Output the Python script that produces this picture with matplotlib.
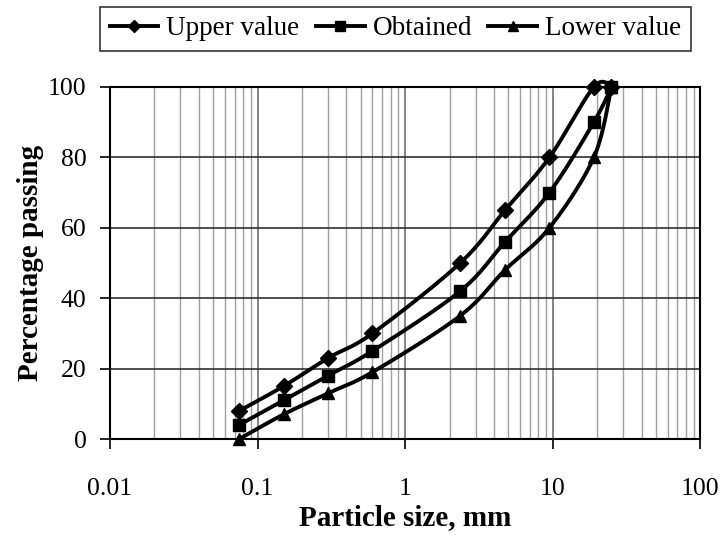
import numpy as np
import matplotlib.pyplot as plt
from matplotlib.ticker import LogLocator, NullFormatter

# Datos
tamano = [0.075, 0.15, 0.3, 0.6, 2.36, 4.75, 9.5, 19, 25]
superior = [8, 15, 23, 30, 50, 65, 80, 100, 100]
obtenido = [4, 11, 18, 25, 42, 56, 70, 90, 100]
inferior = [0, 7, 13, 19, 35, 48, 60, 80, 100]

plt.rcParams['font.family'] = ['Liberation Serif', 'DejaVu Serif']

fig = plt.figure(figsize=(7.19, 5.4), dpi=100)
ax = fig.add_axes([0.153, 0.187, 0.821, 0.652])
ax.set_xscale('log')
ax.set_xlim(0.01, 100)
ax.set_ylim(0, 100)

ANCHO = 0.821 * 7.19
ALTO = 0.652 * 5.4


def suavizar(x, y, n=30):
    # Curva suavizada tipo Excel (Bezier con tangentes de Catmull-Rom)
    # calculada en coordenadas de pantalla
    u = (np.log10(np.array(x, float)) + 2) / 4.0 * ANCHO
    v = np.array(y, float) / 100.0 * ALTO
    P = np.column_stack([u, v])
    pts = []
    for i in range(len(P) - 1):
        p0 = P[i - 1] if i > 0 else P[i]
        p1 = P[i]
        p2 = P[i + 1]
        p3 = P[i + 2] if i + 2 < len(P) else P[i + 1]
        c1 = p1 + (p2 - p0) / 6.0
        c2 = p2 - (p3 - p1) / 6.0
        t = np.linspace(0, 1, n)[:, None]
        seg = ((1 - t) ** 3) * p1 + 3 * ((1 - t) ** 2) * t * c1 + 3 * (1 - t) * t ** 2 * c2 + t ** 3 * p2
        pts.append(seg if i == 0 else seg[1:])
    pts = np.vstack(pts)
    xs = 10 ** (pts[:, 0] / ANCHO * 4.0 - 2)
    ys = pts[:, 1] / ALTO * 100.0
    return xs, ys


series = [(superior, 'D', 8, 'Upper value'),
          (obtenido, 's', 8.5, 'Obtained'),
          (inferior, '^', 9, 'Lower value')]
handles = []
for datos, marca, tam, nombre in series:
    xs, ys = suavizar(tamano, datos)
    ax.plot(xs, ys, color='black', lw=2.8, zorder=3, clip_on=False)
    ax.plot(tamano, datos, linestyle='none', marker=marca, ms=tam, color='black',
            zorder=4, clip_on=False)
    h, = ax.plot([], [], color='black', lw=2.8, marker=marca, ms=tam * 0.8)
    h.set_label(nombre)
    handles.append(h)

# Rejilla
ax.xaxis.set_minor_locator(LogLocator(base=10, subs=np.arange(2, 10), numticks=10))
ax.xaxis.set_minor_formatter(NullFormatter())
ax.set_xticks([0.01, 0.1, 1, 10, 100])
ax.set_xticklabels(['0.01', '0.1', '1', '10', '100'])
ax.set_yticks([0, 20, 40, 60, 80, 100])
ax.grid(which='minor', axis='x', color='#a0a0a0', lw=1)
ax.grid(which='major', axis='x', color='#707070', lw=1.2)
ax.grid(which='major', axis='y', color='#303030', lw=1.2)
ax.set_axisbelow(True)
for s in ax.spines.values():
    s.set_linewidth(1.5)
ax.tick_params(which='major', direction='out', length=7, width=1.2, labelsize=18.5)
ax.tick_params(axis='y', which='major', pad=10)
ax.tick_params(axis='x', which='major', pad=21)
ax.tick_params(which='minor', length=0)

ax.set_xlabel('Particle size, mm', fontsize=21, fontweight='bold', labelpad=3)
ax.set_ylabel('Percentage passing', fontsize=21, fontweight='bold', labelpad=3)

leg = fig.legend(handles=handles, loc='upper center', bbox_to_anchor=(0.550, 0.987),
                 ncol=3, fontsize=19.5, frameon=True, fancybox=False, edgecolor='black',
                 handlelength=1.8, handletextpad=0.3, columnspacing=0.6,
                 borderpad=0.35, borderaxespad=0)
leg.get_frame().set_linewidth(1.2)

fig.savefig('out.png', dpi=100)
